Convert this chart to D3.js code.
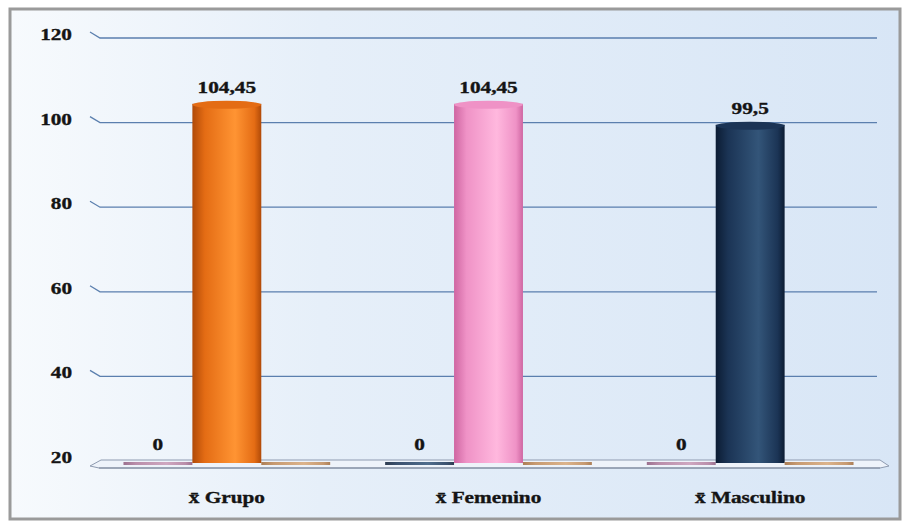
<!DOCTYPE html>
<html>
<head>
<meta charset="utf-8">
<script src="https://cdn.jsdelivr.net/npm/d3@7"></script>
<style>
  html, body { margin: 0; padding: 0; background: #ffffff; }
  svg { display: block; }
  text { font-family: "Liberation Serif", "Times New Roman", serif; font-weight: bold; fill: #141414; }
</style>
</head>
<body>
<svg id="chart" width="902" height="524"></svg>
<script>
// Category labels (x̄ = mean)
const categories = ["x\u0304  Grupo", "x\u0304 Femenino", "x\u0304 Masculino"];
// Three bars per category: left, middle, right
const leftValues = [0, 0, 0];
const middleValues = [104.45, 104.45, 99.5];
const rightValues = [0, 0, 0];
const valueLabels = [["0", "104,45", ""], ["0", "104,45", ""], ["0", "99,5", ""]];
const yTicks = [20, 40, 60, 80, 100, 120];

// Colours per category and slot
const palettes = {
  orange: ["#b04a08", "#e46c14", "#ff9433"],
  pink:   ["#cf66a2", "#ef92c6", "#ffb8de"],
  navy:   ["#0c1c33", "#1b3455", "#335579"],
  mauve:  ["#8d5a7c", "#b07c9c", "#c99ab6"],
  tan:    ["#a06a3a", "#c08a58", "#d8a878"]
};
const slotColours = [
  ["mauve", "orange", "tan"],
  ["navy", "pink", "tan"],
  ["mauve", "navy", "tan"]
];

const FONT = 17;
const STRETCH = 1.25;   // wide bold lettering

const svg = d3.select("#chart");
const defs = svg.append("defs");

// Background gradient
const bg = defs.append("linearGradient").attr("id", "bg")
  .attr("x1", "0%").attr("y1", "0%").attr("x2", "100%").attr("y2", "0%");
bg.append("stop").attr("offset", "0%").attr("stop-color", "#f7fafd");
bg.append("stop").attr("offset", "35%").attr("stop-color", "#e6eff9");
bg.append("stop").attr("offset", "100%").attr("stop-color", "#d8e6f6");

// Cylinder gradients
Object.entries(palettes).forEach(([name, c]) => {
  const g = defs.append("linearGradient").attr("id", "cyl-" + name)
    .attr("x1", "0%").attr("y1", "0%").attr("x2", "100%").attr("y2", "0%");
  g.append("stop").attr("offset", "0%").attr("stop-color", c[0]);
  g.append("stop").attr("offset", "18%").attr("stop-color", c[1]);
  g.append("stop").attr("offset", "62%").attr("stop-color", c[2]);
  g.append("stop").attr("offset", "90%").attr("stop-color", c[1]);
  g.append("stop").attr("offset", "100%").attr("stop-color", c[0]);
});

// Frame
svg.append("rect").attr("x", 10).attr("y", 9).attr("width", 890).attr("height", 510)
  .attr("fill", "url(#bg)").attr("stroke", "#9a9a9a").attr("stroke-width", 3);

// Scales
const y = d3.scaleLinear().domain([20, 120]).range([461, 38]);
const x = d3.scaleBand().domain(categories).range([96, 881])
  .paddingInner(0.21).paddingOuter(0.105);
const slot = d3.scaleBand().domain([0, 1, 2]).range([0, x.bandwidth()]);

// Text helper: anchored label, stretched horizontally
function label(sel, anchor) {
  return sel.attr("text-anchor", anchor).attr("font-size", FONT)
    .attr("stroke", "#141414").attr("stroke-width", 0.35);
}
const place = (px, py) => `translate(${px},${py}) scale(${STRETCH},1)`;

// Gridlines with the slanted side-wall segment
const grid = svg.append("g");
yTicks.forEach(t => {
  const yy = y(t);
  if (t === 20) return;
  grid.append("path")
    .attr("d", `M90,${yy - 6}L100,${yy}L877,${yy}`)
    .attr("fill", "none").attr("stroke", "#5b7fae").attr("stroke-width", 1.3);
});

// Y tick labels
label(svg.append("g").selectAll("text").data(yTicks).join("text"), "end")
  .attr("transform", d => place(72, y(d) + 2))
  .text(d => d);

// Floor plate at the axis minimum
const fy = y(20);
svg.append("path")
  .attr("d", `M90,${fy + 5}L101,${fy - 1}L880,${fy - 1}L889,${fy + 5}L880,${fy + 7}L99,${fy + 7}Z`)
  .attr("fill", "#eef3fa").attr("stroke", "#8e9bb0").attr("stroke-width", 1);
svg.append("line").attr("x1", 99).attr("x2", 880).attr("y1", fy + 7).attr("y2", fy + 7)
  .attr("stroke", "#7a8699").attr("stroke-width", 1.2);

// Bars
const rows = categories.map((c, i) => [leftValues[i], middleValues[i], rightValues[i]]
  .map((v, s) => ({ cat: c, ci: i, s, v, label: valueLabels[i][s], pal: slotColours[i][s] })));
const bars = rows.flat();
const bw = slot.bandwidth();

const g = svg.append("g");
bars.forEach(d => {
  const x0 = x(d.cat) + slot(d.s);
  if (d.v > y.domain()[0]) {
    const top = y(d.v);
    g.append("rect").attr("x", x0).attr("y", top).attr("width", bw).attr("height", fy - top + 2)
      .attr("fill", `url(#cyl-${d.pal})`);
    g.append("ellipse").attr("cx", x0 + bw / 2).attr("cy", top + 1).attr("rx", bw / 2).attr("ry", 4)
      .attr("fill", palettes[d.pal][1]);
  } else {
    // zero value sits flat on the floor
    g.append("rect").attr("x", x0).attr("y", fy + 1).attr("width", bw).attr("height", 3)
      .attr("fill", `url(#cyl-${d.pal})`).attr("opacity", 0.85);
  }
});

// Value labels
label(svg.append("g").selectAll("text").data(bars.filter(d => d.label)).join("text"), "middle")
  .attr("transform", d => place(x(d.cat) + slot(d.s) + bw / 2,
    (d.v > y.domain()[0] ? y(d.v) : fy) - 11))
  .text(d => d.label);

// Category labels
label(svg.append("g").selectAll("text").data(categories).join("text"), "middle")
  .attr("transform", d => place(x(d) + x.bandwidth() / 2, 503))
  .text(d => d);
</script>
</body>
</html>
